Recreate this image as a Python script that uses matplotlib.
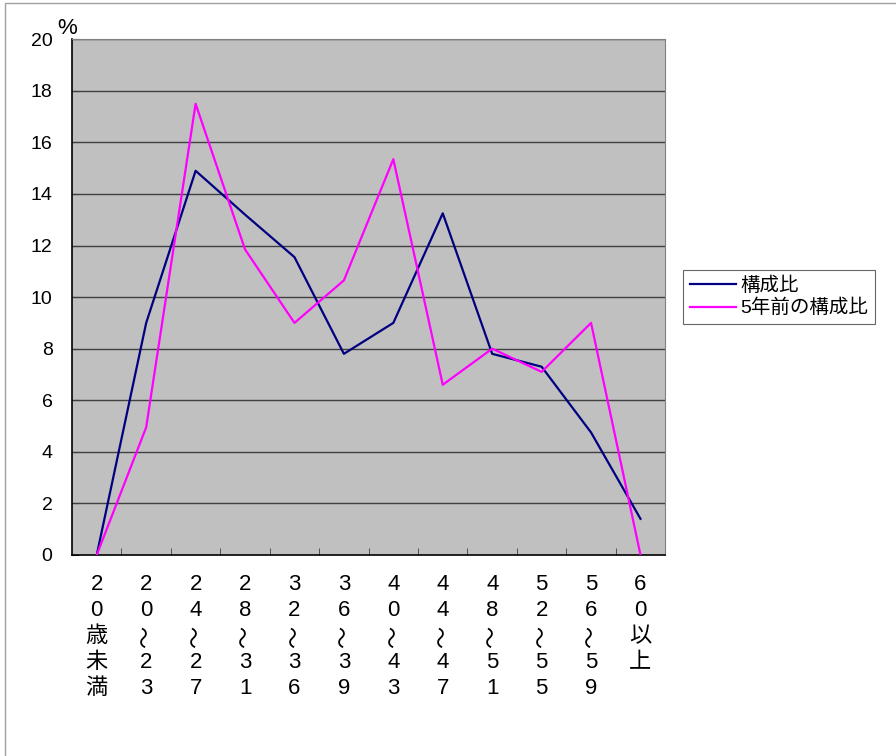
import matplotlib.pyplot as plt
import matplotlib.transforms as mtransforms
from matplotlib.patches import Rectangle

plt.rcParams['font.family'] = ['Liberation Sans', 'DejaVu Sans', 'Noto Sans CJK JP']

# 年齢区分（縦書き、～は90度回転して描く）
categories = ["20歳未満", "20～23", "24～27", "28～31", "32～36", "36～39",
              "40～43", "44～47", "48～51", "52～55", "56～59", "60以上"]
ratio_now = [0, 9.0, 14.9, 13.2, 11.55, 7.8, 9.0, 13.25, 7.8, 7.3, 4.75, 1.4]
ratio_5y = [0, 4.95, 17.5, 11.85, 9.0, 10.65, 15.35, 6.6, 8.0, 7.1, 9.0, 0]
yticks = list(range(0, 21, 2))

fig = plt.figure(figsize=(8.96, 7.56), dpi=100)
ax = fig.add_axes([0.0804, 0.266, 0.662, 0.682])
ax.set_facecolor('#C0C0C0')

x = list(range(len(categories)))
ax.plot(x, ratio_now, color='#000080', lw=1.6, label='構成比', zorder=3)
ax.plot(x, ratio_5y, color='#FF00FF', lw=1.6, label='5年前の構成比', zorder=3)

ax.set_xlim(-0.5, len(categories) - 0.5)
ax.set_ylim(0, 20)
ax.set_yticks(yticks)
ax.set_yticklabels([str(v) for v in yticks], fontsize=14)
for v in yticks[1:]:
    ax.axhline(v, color='#404040', lw=1.0, zorder=1)

ax.set_xticks(x)
ax.set_xticklabels([''] * len(x))
ax.set_xticks([i + 0.5 for i in x[:-1]], minor=True)
ax.tick_params(axis='x', which='major', length=0)
ax.tick_params(axis='x', which='minor', length=5, direction='in', color='#404040')
ax.tick_params(axis='y', length=5, direction='in', pad=14, color='#404040')
for s in ['top', 'right']:
    ax.spines[s].set_color('#808080')
for s in ['left', 'bottom']:
    ax.spines[s].set_color('black')
    ax.spines[s].set_linewidth(1.2)

# 縦書きラベル
trans = mtransforms.blended_transform_factory(ax.transData, fig.transFigure)
for i, label in enumerate(categories):
    for j, ch in enumerate(label):
        y = 1 - (585 + 25.8 * j) / 756
        if ch == '～':
            ax.text(i, y, ch, transform=trans, ha='center', va='center', fontsize=16,
                    rotation=90, family=['Noto Sans CJK JP'])
        else:
            ax.text(i, y, ch, transform=trans, ha='center', va='center', fontsize=16)

fig.text(0.075, 0.962, '%', fontsize=16, ha='center', va='center')

leg = ax.legend(loc='center left', bbox_to_anchor=(1.03, 0.5), fontsize=14,
                frameon=True, fancybox=False, edgecolor='#404040',
                handlelength=2.4, handletextpad=0.2, borderpad=0.35,
                labelspacing=0.2, borderaxespad=0)
leg.get_frame().set_linewidth(0.8)

fig.patches.append(Rectangle((0.006, -0.01), 1.2, 1.006, transform=fig.transFigure,
                             fill=False, edgecolor='#A0A0A0', lw=1))

fig.savefig('out.png', dpi=100)
